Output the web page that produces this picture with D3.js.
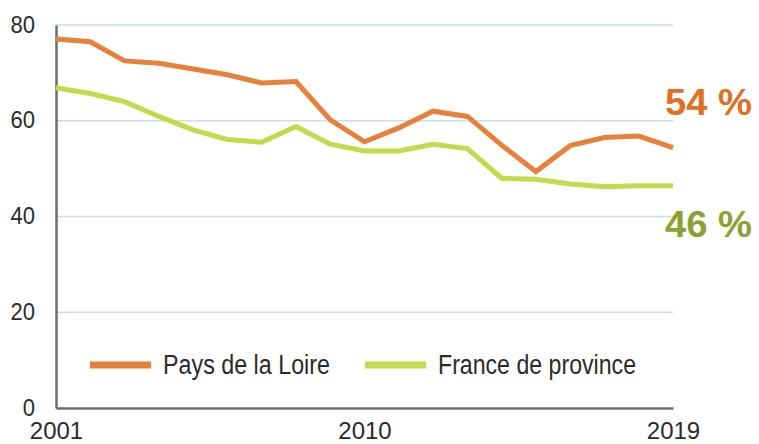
<!DOCTYPE html>
<html>
<head>
<meta charset="utf-8">
<script src="https://cdn.jsdelivr.net/npm/d3@7"></script>
<style>
  body { margin: 0; background: #fff; }
  svg { display: block; }
</style>
</head>
<body>
<div id="chart"></div>
<script>
// values
var years = [2001, 2002, 2003, 2004, 2005, 2006, 2007, 2008, 2009, 2010,
             2011, 2012, 2013, 2014, 2015, 2016, 2017, 2018, 2019];
var paysDeLaLoire = [77.1, 76.5, 72.5, 72.0, 70.8, 69.6, 67.9, 68.2, 60.2, 55.6,
                     58.5, 62.0, 60.9, 54.9, 49.4, 54.8, 56.5, 56.8, 54.4];
var franceProvince = [66.9, 65.7, 64.0, 60.9, 58.1, 56.1, 55.5, 58.8, 55.1, 53.7,
                      53.7, 55.1, 54.2, 48.0, 47.8, 46.8, 46.2, 46.4, 46.4];
var yTicks = [0, 20, 40, 60, 80];
var xTicks = [2001, 2010, 2019];
var endLabels = ["54 %", "46 %"];
var seriesNames = ["Pays de la Loire", "France de province"];

var W = 759, H = 444;
var margin = { top: 25, right: 86, bottom: 36, left: 56 };
var width = W - margin.left - margin.right,
    height = H - margin.top - margin.bottom;

var orange = "#e8803a", green = "#c3db4b";
var orangeText = "#e0701f", greenText = "#8ba232";
var tickFont = "'Liberation Sans', Arial, sans-serif";

var svg = d3.select("#chart").append("svg").attr("width", W).attr("height", H);
var g = svg.append("g").attr("transform", "translate(" + margin.left + "," + margin.top + ")");

var x = d3.scaleLinear().domain([2001, 2019]).range([0, width]);
var y = d3.scaleLinear().domain([0, 80]).range([height, 0]);

// gridlines
g.append("g")
    .selectAll("line")
    .data(yTicks.filter(function (d) { return d > 0; }))
    .enter().append("line")
    .attr("x1", 0).attr("x2", width)
    .attr("y1", function (d) { return y(d); })
    .attr("y2", function (d) { return y(d); })
    .attr("stroke", "#c6e0f2")
    .attr("stroke-width", 1.5);

// axes
var yAxis = g.append("g")
    .call(d3.axisLeft(y).tickValues(yTicks).tickSize(0).tickPadding(21));
yAxis.select(".domain").attr("stroke", "#6e6e6e").attr("stroke-width", 2.5);
yAxis.selectAll("text")
    .attr("font-family", tickFont)
    .attr("font-size", "24px")
    .attr("fill", "#2b2b2b")
    .attr("dy", "0.3em")
    .attr("transform", function () {
        // slightly condensed digits
        var tx = +d3.select(this).attr("x");
        return "translate(" + (tx * 0.08) + ",0) scale(0.92,1)";
    });

var xAxis = g.append("g")
    .attr("transform", "translate(0," + height + ")")
    .call(d3.axisBottom(x).tickValues(xTicks).tickFormat(d3.format("d")).tickSize(0).tickPadding(14));
xAxis.select(".domain").attr("stroke", "#6e6e6e").attr("stroke-width", 2.5);
xAxis.selectAll("text")
    .attr("font-family", tickFont)
    .attr("font-size", "24px")
    .attr("fill", "#2b2b2b");

// lines
var line = d3.line()
    .x(function (d, i) { return x(years[i]); })
    .y(function (d) { return y(d); });

g.append("path")
    .datum(franceProvince)
    .attr("fill", "none")
    .attr("stroke", green)
    .attr("stroke-width", 5)
    .attr("d", line);

g.append("path")
    .datum(paysDeLaLoire)
    .attr("fill", "none")
    .attr("stroke", orange)
    .attr("stroke-width", 5)
    .attr("d", line);

// end labels
svg.append("text")
    .attr("x", 665).attr("y", 115)
    .attr("font-family", "'Liberation Sans', Arial, sans-serif")
    .attr("font-weight", "bold")
    .attr("font-size", "36px")
    .attr("fill", orangeText)
    .attr("textLength", 87)
    .attr("lengthAdjust", "spacingAndGlyphs")
    .text(endLabels[0]);

svg.append("text")
    .attr("x", 665).attr("y", 237)
    .attr("font-family", "'Liberation Sans', Arial, sans-serif")
    .attr("font-weight", "bold")
    .attr("font-size", "36px")
    .attr("fill", greenText)
    .attr("textLength", 87)
    .attr("lengthAdjust", "spacingAndGlyphs")
    .text(endLabels[1]);

// legend
var legend = svg.append("g").attr("transform", "translate(0,365)");
var legendItems = [
    { name: seriesNames[0], color: orange, x0: 90, len: 167 },
    { name: seriesNames[1], color: green, x0: 365, len: 198 }
];
legend.selectAll("line")
    .data(legendItems)
    .enter().append("line")
    .attr("x1", function (d) { return d.x0; })
    .attr("x2", function (d) { return d.x0 + 61; })
    .attr("y1", 0).attr("y2", 0)
    .attr("stroke", function (d) { return d.color; })
    .attr("stroke-width", 7);
legend.selectAll("text")
    .data(legendItems)
    .enter().append("text")
    .attr("x", function (d) { return d.x0 + 73; })
    .attr("y", 9)
    .attr("font-family", tickFont)
    .attr("font-size", "27px")
    .attr("fill", "#2b2b2b")
    .attr("textLength", function (d) { return d.len; })
    .attr("lengthAdjust", "spacingAndGlyphs")
    .text(function (d) { return d.name; });
</script>
</body>
</html>
